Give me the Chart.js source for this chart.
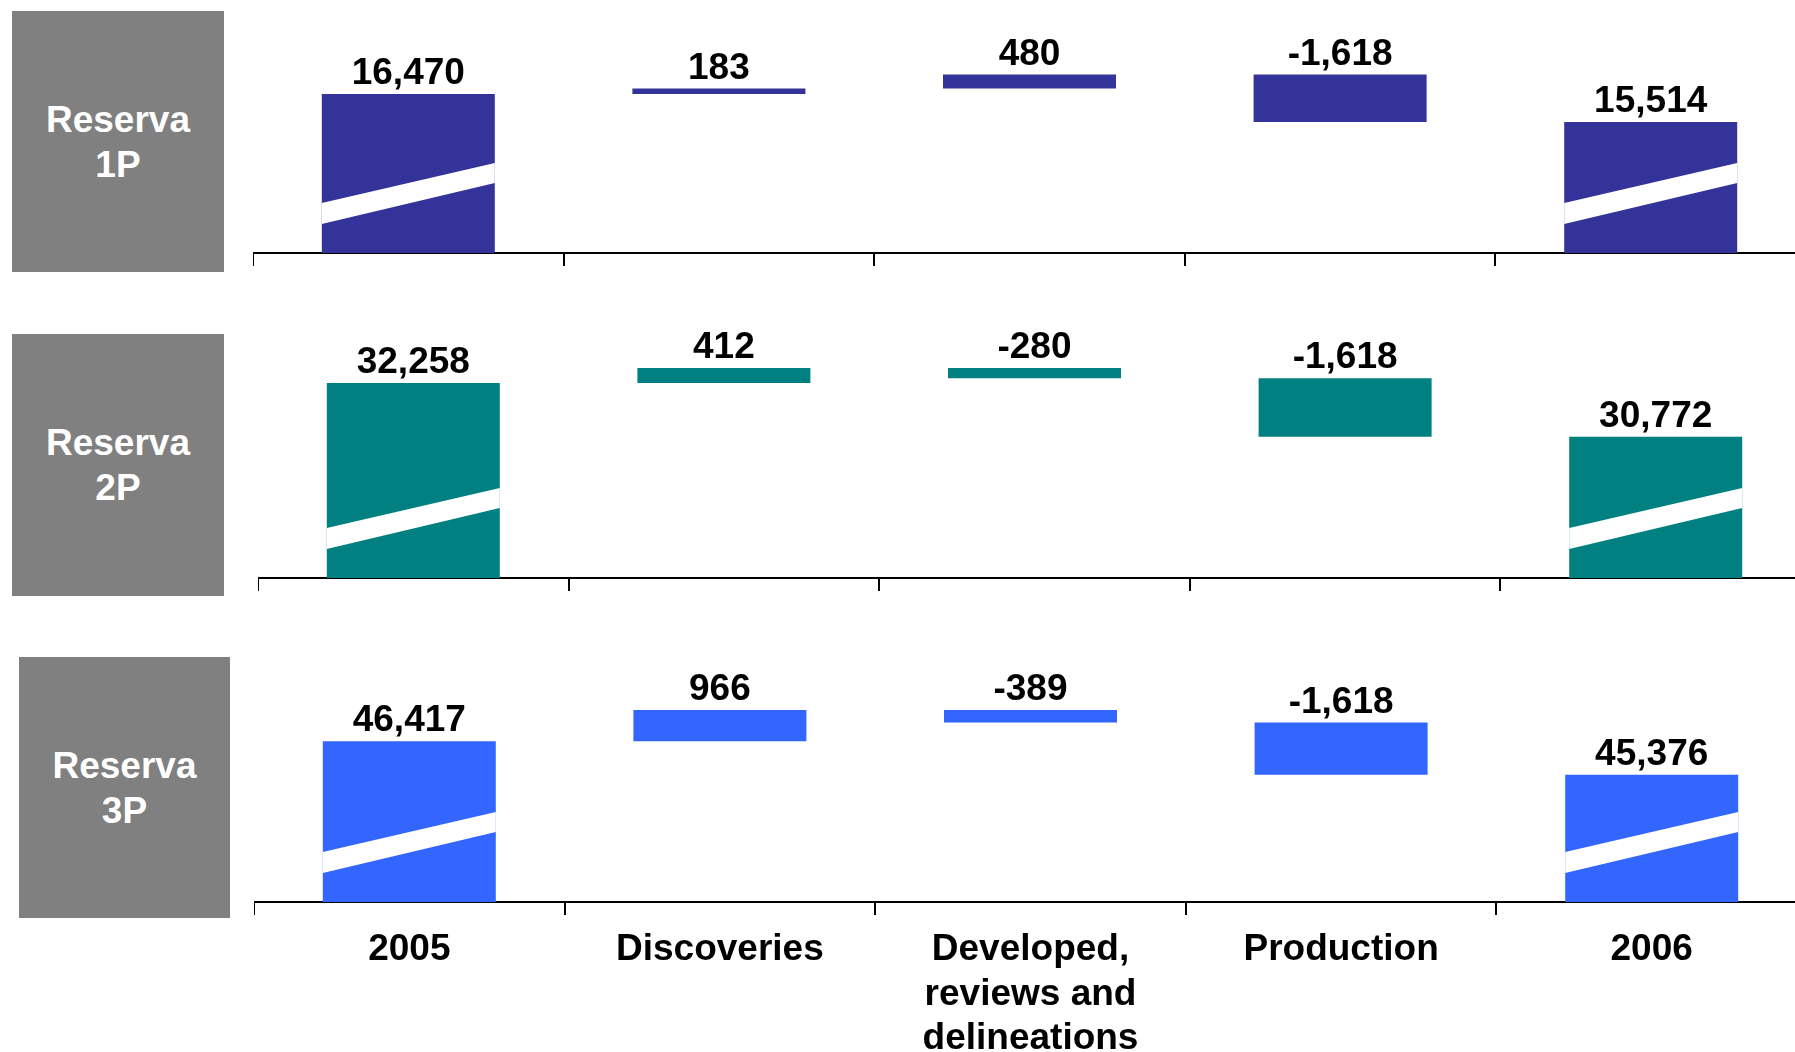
<!DOCTYPE html>
<html>
<head>
<meta charset="utf-8">
<script src="https://cdn.jsdelivr.net/npm/chart.js@4.4.1/dist/chart.umd.min.js"></script>
<style>
  html, body { margin: 0; padding: 0; background: #fff; }
  body { width: 1795px; height: 1052px; overflow: hidden; position: relative;
         font-family: "Liberation Sans", Arial, sans-serif; }
  .tag { position: absolute; background: #808080; color: #fff; font-weight: bold;
         font-size: 37px; line-height: 45px; display: flex; align-items: center;
         justify-content: center; text-align: center; }
  canvas { position: absolute; display: block; }
</style>
</head>
<body>
<div class="tag" id="tag0" style="left:12px;top:11px;width:212px;height:261px"></div>
<div class="tag" id="tag1" style="left:12px;top:334px;width:212px;height:262px"></div>
<div class="tag" id="tag2" style="left:19px;top:657px;width:211px;height:261px"></div>

<canvas id="c0" width="1553" height="283" style="left:253px;top:0px"></canvas>
<canvas id="c1" width="1553" height="325" style="left:258px;top:283px"></canvas>
<canvas id="c2" width="1553" height="444" style="left:254px;top:608px"></canvas>

<script>
// Reserve reconciliation 2005 -> 2006 (MMbpce)
const categories = ['2005', 'Discoveries', ['Developed,', 'reviews and', 'delineations'], 'Production', '2006'];
const reserve1P = [16470, 183, 480, -1618, 15514];
const reserve2P = [32258, 412, -280, -1618, 30772];
const reserve3P = [46417, 966, -389, -1618, 45376];
const panelTitles = [['Reserva', '1P'], ['Reserva', '2P'], ['Reserva', '3P']];

const FONT = '"Liberation Sans", Arial, sans-serif';

// Opening and closing totals sit on the (broken) axis floor, changes float
function waterfall(values, floor) {
  const out = [[floor, values[0]]];
  let level = values[0];
  for (let i = 1; i < values.length - 1; i++) {
    out.push([level, level + values[i]]);
    level += values[i];
  }
  out.push([floor, values[values.length - 1]]);
  return out;
}

// Value written above each bar
const valueLabels = {
  id: 'valueLabels',
  afterDatasetsDraw(chart) {
    const ctx = chart.ctx;
    const meta = chart.getDatasetMeta(0);
    const shown = chart.data.datasets[0].shown;
    ctx.save();
    ctx.font = 'bold 37px ' + FONT;
    ctx.fillStyle = '#000';
    ctx.textAlign = 'center';
    ctx.textBaseline = 'alphabetic';
    meta.data.forEach((bar, i) => {
      const top = Math.min(bar.y, bar.base);
      ctx.fillText(shown[i].toLocaleString('en-US'), bar.x, top - 10);
    });
    ctx.restore();
  }
};

// White slanted cut on the total bars, marking the truncated value axis
const axisBreak = {
  id: 'axisBreak',
  afterDatasetsDraw(chart) {
    const ctx = chart.ctx;
    const meta = chart.getDatasetMeta(0);
    [0, meta.data.length - 1].forEach(i => {
      const bar = meta.data[i];
      const l = bar.x - bar.width / 2, r = bar.x + bar.width / 2;
      const b = bar.base;
      ctx.save();
      ctx.fillStyle = '#fff';
      ctx.beginPath();
      ctx.moveTo(l, b - 29);
      ctx.lineTo(r, b - 70);
      ctx.lineTo(r, b - 90);
      ctx.lineTo(l, b - 50);
      ctx.closePath();
      ctx.fill();
      ctx.restore();
    });
  }
};

const panels = [
  { canvas: 'c0', values: reserve1P, color: '#333399', min: 11064, max: 19666, axisHeight: 30, labels: false },
  { canvas: 'c1', values: reserve2P, color: '#008080', min: 26875, max: 35017, axisHeight: 30, labels: false },
  { canvas: 'c2', values: reserve3P, color: '#3366FF', min: 41430, max: 50544, axisHeight: 150, labels: true }
];

panelTitles.forEach((t, i) => {
  document.getElementById('tag' + i).innerHTML = t.join('<br>');
});

panels.forEach(p => {
  new Chart(document.getElementById(p.canvas), {
    type: 'bar',
    data: {
      labels: categories,
      datasets: [{
        data: waterfall(p.values, p.min),
        shown: p.values,
        backgroundColor: p.color,
        borderWidth: 0,
        barPercentage: 0.557,
        categoryPercentage: 1
      }]
    },
    options: {
      responsive: false,
      animation: false,
      events: [],
      layout: { padding: 0 },
      plugins: { legend: { display: false }, tooltip: { enabled: false } },
      scales: {
        x: {
          z: 1,
          offset: true,
          afterFit: scale => { scale.height = p.axisHeight; },
          border: { display: true, color: '#000', width: 2 },
          grid: { offset: true, drawOnChartArea: false, drawTicks: true, tickLength: 13, color: '#000', lineWidth: 2 },
          ticks: {
            display: p.labels,
            color: '#000',
            padding: 13,
            maxRotation: 0,
            autoSkip: false,
            font: { family: FONT, size: 37, weight: 'bold', lineHeight: 1.2 }
          }
        },
        y: { display: false, min: p.min, max: p.max }
      }
    },
    plugins: [axisBreak, valueLabels]
  });
});
</script>
</body>
</html>
